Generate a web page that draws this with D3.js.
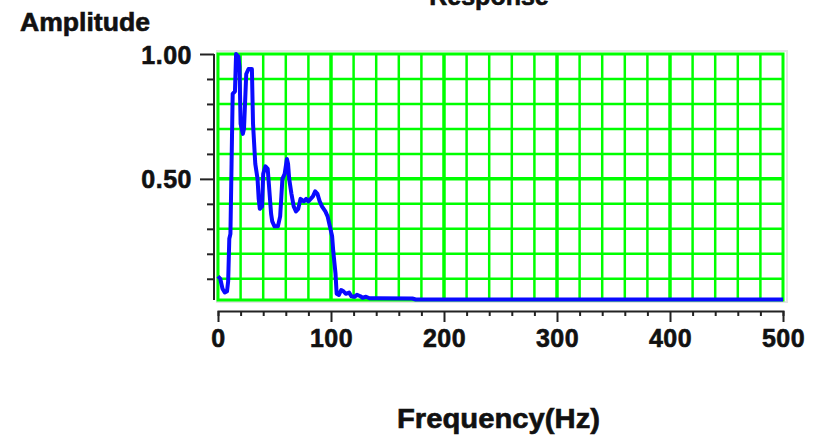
<!DOCTYPE html>
<html>
<head>
<meta charset="utf-8">
<script src="https://cdn.jsdelivr.net/npm/d3@7"></script>
<style>
  body { margin: 0; background: #fff; }
  text { font-family: "Liberation Sans", Arial, sans-serif; font-weight: bold; fill: #111; stroke: #111; stroke-width: 0.6; }
</style>
</head>
<body>
<svg id="chart" width="821" height="437"></svg>
<script>
// response curve
var freqs = [0, 2, 4, 6, 8, 9, 10, 11, 12, 13, 15, 16, 18, 19, 20, 22, 23, 25, 27, 30, 31, 33, 35, 36, 37, 39,
    40, 42, 44, 45, 47, 48, 50, 53, 55, 57, 59, 61, 62, 63, 65, 67, 69, 71, 73, 76, 78, 80, 84, 86, 88,
    90, 92, 95, 97, 99, 101, 102, 104, 105, 107, 109, 111, 113, 116, 118, 121, 123, 126, 128, 131, 134,
    140, 172, 175, 500];
var amps = [0.11, 0.10, 0.06, 0.045, 0.05, 0.09, 0.26, 0.28, 0.56, 0.84, 0.85, 1.00, 0.99, 0.95, 0.72, 0.68, 0.70, 0.92, 0.94, 0.94, 0.72, 0.56, 0.50, 0.42, 0.38, 0.39,
    0.52, 0.55, 0.54, 0.48, 0.36, 0.33, 0.31, 0.31, 0.35, 0.50, 0.52, 0.58, 0.56, 0.50, 0.44, 0.39, 0.37, 0.38, 0.42, 0.41, 0.42, 0.41, 0.43, 0.45, 0.44,
    0.41, 0.39, 0.37, 0.35, 0.31, 0.27, 0.21, 0.12, 0.04, 0.035, 0.055, 0.05, 0.04, 0.045, 0.03, 0.028, 0.036, 0.03, 0.024, 0.028, 0.022,
    0.022, 0.021, 0.017, 0.017];

var xTicks = d3.range(0, 501, 20);
var xLabels = [0, 100, 200, 300, 400, 500];
var yTicks = [0.1, 0.2, 0.3, 0.4, 0.5, 0.6, 0.7, 0.8, 0.9, 1.0];
var yLabels = [0.5, 1.0];

var svg = d3.select("#chart");

var x = d3.scaleLinear().domain([0, 500]).range([218, 783]);
var y = d3.scaleLinear().domain([0.015, 1.0]).range([300, 54]);

// light shadow round the plot
svg.append("rect")
    .attr("x", x(0) - 1).attr("y", y(1) - 3)
    .attr("width", x(500) - x(0) + 5).attr("height", y(0.015) - y(1) + 5)
    .attr("fill", "none").attr("stroke", "#e4e4e4").attr("stroke-width", 2);

// grid
var grid = svg.append("g").attr("stroke", "#00ff00");
grid.selectAll(".vx")
    .data(xTicks.filter(function (d) { return d > 0 && d < 500; }))
    .enter().append("line")
    .attr("x1", function (d) { return x(d); })
    .attr("x2", function (d) { return x(d); })
    .attr("y1", y(1)).attr("y2", y(0.015))
    .attr("stroke-width", function (d) { return d % 100 == 0 ? 3.5 : 2.5; });
grid.selectAll(".hy")
    .data(yTicks.filter(function (d) { return d < 1; }))
    .enter().append("line")
    .attr("x1", x(0)).attr("x2", x(500))
    .attr("y1", function (d) { return y(d); })
    .attr("y2", function (d) { return y(d); })
    .attr("stroke-width", function (d) { return d == 0.5 ? 3.5 : 2.5; });
grid.append("rect")
    .attr("x", x(0)).attr("y", y(1))
    .attr("width", x(500) - x(0)).attr("height", y(0.015) - y(1))
    .attr("fill", "none").attr("stroke-width", 3);

// the curve
var line = d3.line()
    .x(function (d, i) { return x(freqs[i]); })
    .y(function (d) { return y(d); });

svg.append("path")
    .datum(amps)
    .attr("d", line)
    .attr("fill", "none")
    .attr("stroke", "#0a0aff")
    .attr("stroke-width", 4)
    .attr("stroke-linejoin", "round");

// y axis
var yAxis = svg.append("g")
    .attr("transform", "translate(214,0)")
    .call(d3.axisLeft(y)
        .tickValues(yTicks)
        .tickSizeOuter(0)
        .tickSize(7)
        .tickFormat(function (d) {
            return yLabels.indexOf(d) >= 0 ? d3.format(".2f")(d) : "";
        }));
yAxis.select(".domain").attr("d", "M0," + y(1) + "V" + y(0.015)).attr("stroke", "#222").attr("stroke-width", 2);
yAxis.selectAll(".tick line")
    .attr("stroke", "#222").attr("stroke-width", 2)
    .attr("x2", function (d) { return yLabels.indexOf(d) >= 0 ? -14 : -7; });
yAxis.selectAll(".tick text")
    .attr("x", -22).attr("dy", "0.36em")
    .attr("font-size", 25).attr("letter-spacing", 0.5)
    .attr("font-family", null);

// x axis
var xAxis = svg.append("g")
    .attr("transform", "translate(0,311)")
    .call(d3.axisBottom(x)
        .tickValues(xTicks)
        .tickSizeOuter(0)
        .tickSize(5)
        .tickFormat(function (d) {
            return xLabels.indexOf(d) >= 0 ? d : "";
        }));
xAxis.select(".domain").attr("stroke", "#222").attr("stroke-width", 2);
xAxis.selectAll(".tick line")
    .attr("stroke", "#222").attr("stroke-width", 2)
    .attr("y2", function (d) { return d % 100 == 0 ? 11 : 5; });
xAxis.selectAll(".tick text")
    .attr("y", 36).attr("dy", null)
    .attr("font-size", 25).attr("letter-spacing", 0.5)
    .attr("font-family", null);

// titles (the reference crops the top title at the edge)
svg.append("text")
    .attr("x", 489).attr("y", 5)
    .attr("text-anchor", "middle")
    .attr("font-size", 25)
    .text("Response");

svg.append("text")
    .attr("x", 20).attr("y", 31)
    .attr("font-size", 25)
    .attr("textLength", 130).attr("lengthAdjust", "spacingAndGlyphs")
    .text("Amplitude");

svg.append("text")
    .attr("x", 397).attr("y", 428)
    .attr("font-size", 27)
    .attr("textLength", 203).attr("lengthAdjust", "spacingAndGlyphs")
    .text("Frequency(Hz)");
</script>
</body>
</html>
